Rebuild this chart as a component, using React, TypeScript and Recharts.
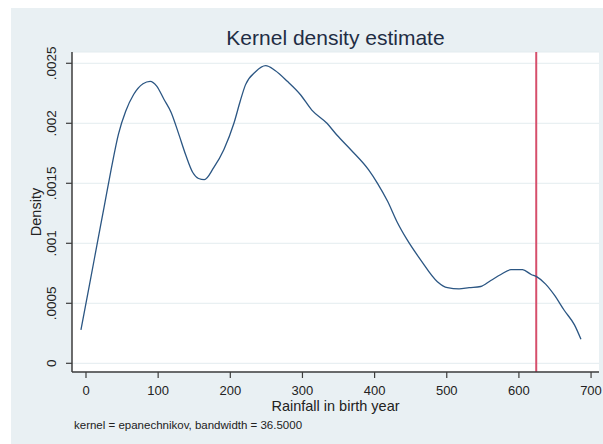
import { LineChart, Line, XAxis, YAxis, CartesianGrid, ReferenceLine, Label } from 'recharts'

// kernel density of rainfall in birth year
const rainfall = [
  -7, 5, 15, 25, 35, 45, 55, 66, 79, 89, 98, 108, 118, 128, 138, 148, 156,
  164, 177, 191, 205, 214, 221, 235, 249, 262, 279, 297, 313, 334, 348, 367,
  392, 404, 418, 431, 445, 464, 487, 501, 517, 531, 547, 561, 575, 589, 605,
  617, 625, 637, 649, 663, 677, 686,
]
const density = [
  0.000278, 0.00066, 0.00098, 0.0013, 0.00162, 0.00191, 0.0021, 0.00224,
  0.00233, 0.00235, 0.00231, 0.0022, 0.00209, 0.00192, 0.00174, 0.00159,
  0.00154, 0.00153, 0.00163, 0.00178, 0.002, 0.00219, 0.00232, 0.00243,
  0.00248, 0.00244, 0.00235, 0.00224, 0.00211, 0.00200, 0.0019, 0.00178,
  0.00161, 0.0015, 0.00135, 0.00118, 0.00103, 0.00086, 0.00068, 0.00063,
  0.00062, 0.00063, 0.00064, 0.00069, 0.00074, 0.00078, 0.00078, 0.00074,
  0.00072, 0.00066, 0.00057, 0.00044, 0.00032, 0.0002,
]
const xTicks = [0, 100, 200, 300, 400, 500, 600, 700]
const yTicks = [0, 0.0005, 0.001, 0.0015, 0.002, 0.0025]
const yTickLabels = ['0', '.0005', '.001', '.0015', '.002', '.0025']
const markerRainfall = 624

const data = rainfall.map((r, i) => ({ rainfall: r, density: density[i] }))

const FONT = '"Liberation Sans", Arial, sans-serif'
const INK = '#222'

// eslint-disable-next-line @typescript-eslint/no-explicit-any
const YTick = ({ x, y, payload }: any) => {
  const i = yTicks.indexOf(payload.value)
  const cx = x - 12
  return (
    <text
      x={cx} y={y} transform={`rotate(-90, ${cx}, ${y})`}
      textAnchor="middle" dominantBaseline="central"
      fontSize={13.5} fontFamily={FONT} fill={INK}
    >
      {i >= 0 ? yTickLabels[i] : payload.value}
    </text>
  )
}

// eslint-disable-next-line @typescript-eslint/no-explicit-any
const XTick = ({ x, y, payload }: any) => (
  <text x={x} y={y} dy={15} textAnchor="middle" fontSize={13} fontFamily={FONT} fill={INK}>
    {payload.value}
  </text>
)

// eslint-disable-next-line @typescript-eslint/no-explicit-any
const YTitle = ({ viewBox }: any) => {
  const cy = viewBox.y + viewBox.height / 2
  return (
    <text
      x={25} y={cy} transform={`rotate(-90, 25, ${cy})`}
      textAnchor="middle" dominantBaseline="central"
      fontSize={14.5} fontFamily={FONT} fill={INK}
    >
      Density
    </text>
  )
}

// eslint-disable-next-line @typescript-eslint/no-explicit-any
const XTitle = ({ viewBox }: any) => (
  <text
    x={viewBox.x + viewBox.width / 2} y={viewBox.y + 34}
    textAnchor="middle" dominantBaseline="central"
    fontSize={14.5} fontFamily={FONT} fill={INK}
  >
    Rainfall in birth year
  </text>
)

export default function App() {
  return (
    <div style={{ position: 'absolute', left: 0, top: 0, width: 603, height: 444, background: '#fff' }}>
      <div style={{ position: 'absolute', left: 11, top: 8, width: 592, height: 436, background: '#e9f0f3' }}>
        <div
          style={{
            position: 'absolute', left: 61, width: 527, top: 18, textAlign: 'center',
            fontFamily: FONT, fontSize: 21, color: '#1f2d44', lineHeight: '24px',
          }}
        >
          Kernel density estimate
        </div>
        <div
          style={{
            position: 'absolute', left: 63, top: 410, fontFamily: FONT, fontSize: 11.5,
            color: INK, lineHeight: '14px', whiteSpace: 'nowrap',
          }}
        >
          kernel = epanechnikov, bandwidth = 36.5000
        </div>
        <LineChart
          width={592}
          height={436}
          data={data}
          margin={{ top: 44, right: 4, bottom: 0, left: 0 }}
          style={{ position: 'absolute', left: 0, top: 0 }}
        >
          <CartesianGrid vertical={false} stroke="#e3ecef" fill="#ffffff" />
          <XAxis
            dataKey="rainfall"
            type="number"
            domain={[-19.4, 711]}
            ticks={xTicks}
            allowDataOverflow
            height={72}
            tickSize={6}
            tick={<XTick />}
            axisLine={{ stroke: '#3c3c3c', strokeWidth: 1.5 }}
            tickLine={{ stroke: '#3c3c3c', strokeWidth: 1.2 }}
          >
            <Label content={<XTitle />} />
          </XAxis>
          <YAxis
            type="number"
            domain={[-0.0000725, 0.002594]}
            ticks={yTicks}
            allowDataOverflow
            width={61}
            tickSize={6}
            tick={<YTick />}
            axisLine={{ stroke: '#3c3c3c', strokeWidth: 1.5 }}
            tickLine={{ stroke: '#3c3c3c', strokeWidth: 1.2 }}
          >
            <Label content={<YTitle />} />
          </YAxis>
          <ReferenceLine x={markerRainfall} stroke="#d64f6c" strokeWidth={2} />
          <Line
            type="monotone"
            dataKey="density"
            stroke="#2b5683"
            strokeWidth={1.3}
            dot={false}
            isAnimationActive={false}
          />
        </LineChart>
      </div>
    </div>
  )
}
